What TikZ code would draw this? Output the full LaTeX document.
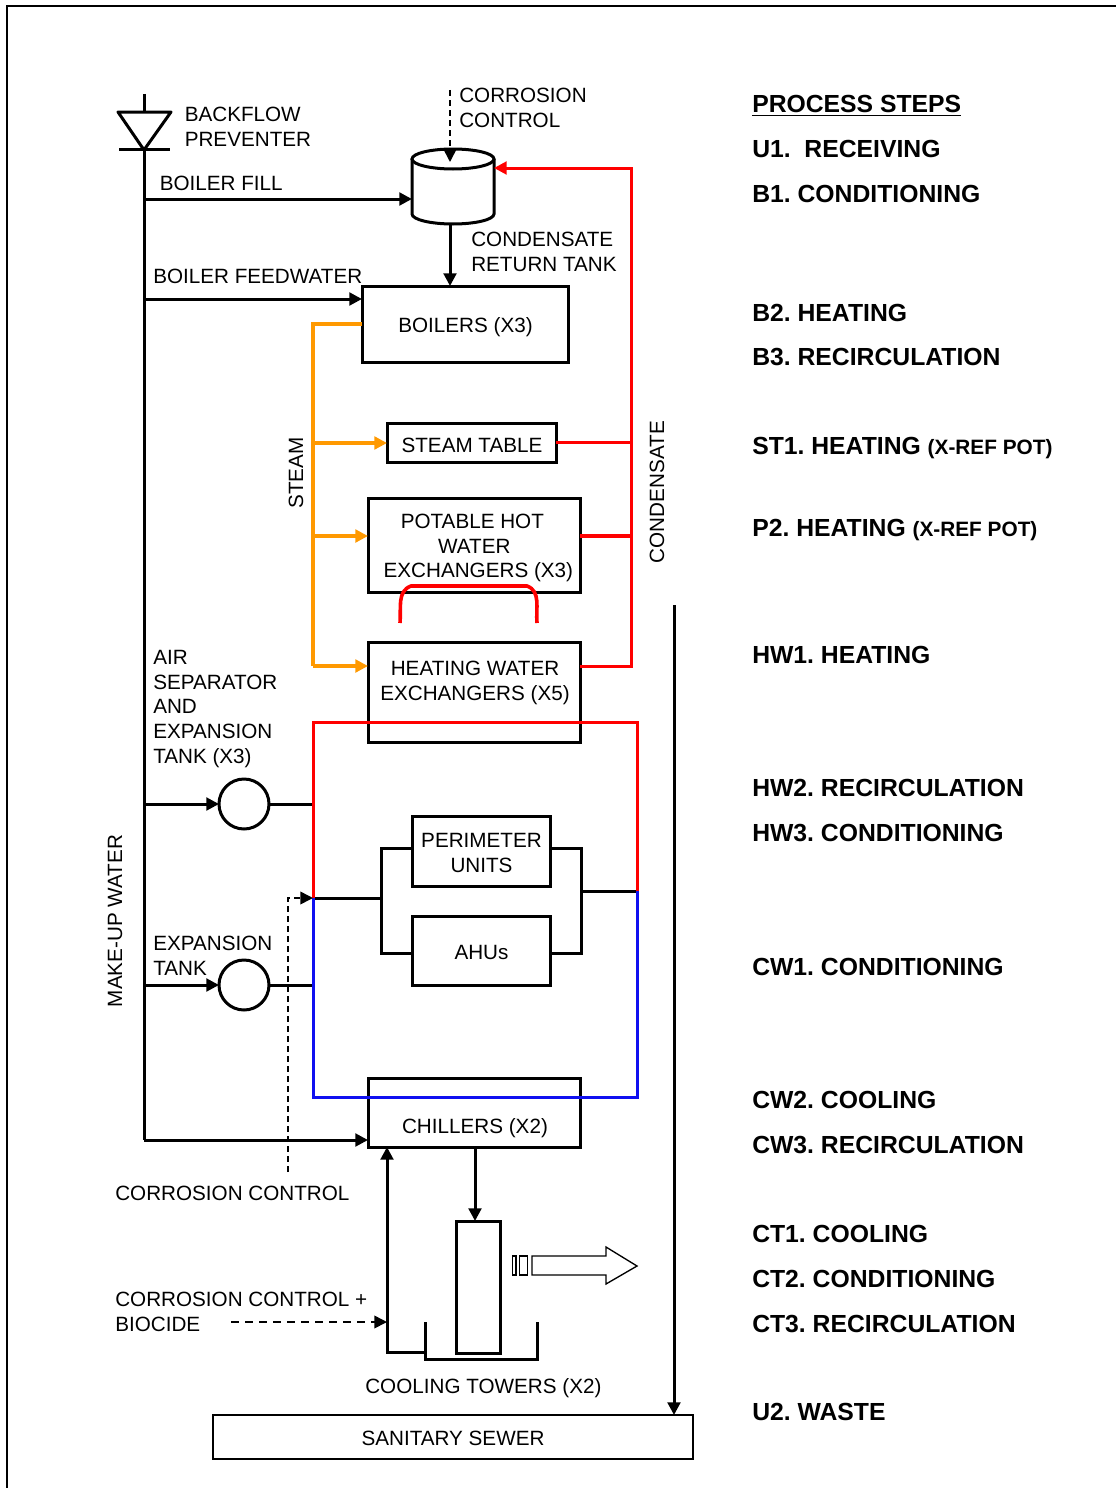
\documentclass[tikz,border=0pt]{standalone}
\usepackage{fontspec}
\setmainfont{Liberation Sans}
\usetikzlibrary{arrows.meta}
\definecolor{mysteam}{RGB}{255, 153, 0}
\definecolor{myred}{RGB}{255, 0, 0}
\definecolor{myblue}{RGB}{16, 16, 240}
\tikzset{
 >={Triangle[length=9.5pt,width=9.5pt]},
 lab/.style={inner sep=0pt, align=center, font=\fontsize{15.5}{18.6}\selectfont},
 leftlab/.style={lab, align=left, anchor=west},
 steplab/.style={inner sep=0pt, anchor=base west, font=\fontsize{18.55}{22}\selectfont\bfseries},
 unit/.style 2 args={draw, line width=2.25pt, inner sep=0pt, outer sep=0pt, minimum width=#1*0.75pt, minimum height=#2*0.75pt},
 vessel/.style={draw, circle, line width=2.25pt, inner sep=0pt, outer sep=0pt, minimum size=37.5pt},
 pipe/.style={line width=2.25pt},
 flow/.style={line width=2.25pt, ->},
 steam/.style={line width=2.4pt, color=mysteam},
 cond/.style={line width=2.25pt, color=myred},
 chem/.style={line width=1.2pt, dash pattern=on 4.5pt off 3pt, ->},
 thin outline/.style={line width=1pt}
}
\begin{document}
\begin{tikzpicture}[x=0.75pt, y=-0.75pt]
\frenchspacing
\useasboundingbox (0,0) rectangle (1116,1488);

 %frame
 \draw[line width=1.5pt] (7,1488) -- (7,6) -- (1116,6);

 %units
 \node[unit={206}{76}] (boilers) at (465,324) {};
 \node[lab] (boilerstext) at (465.5,327) {BOILERS (X3)};
 \node[unit={169}{39}] (steamtable) at (471.5,442.5) {};
 \node[lab] (steamtabletext) at (472,445.5) {STEAM TABLE};
 \node[unit={212}{94}] (potable) at (474,545) {};
 \node[lab] (potabletext) at (477,548) {\hspace{-7pt}POTABLE HOT\\\hspace{-4pt}WATER\\\hspace{2pt}EXCHANGERS (X3)};
 \node[unit={212}{100}] (heating) at (474,692) {};
 \node[lab] (heatingtext) at (475,683) {HEATING WATER\\EXCHANGERS (X5)};
 \node[unit={138}{70}] (perimeter) at (481,851) {};
 \node[lab] (perimetertext) at (481.5,853) {PERIMETER\\UNITS};
 \node[unit={138}{69}] (ahus) at (481,950.5) {};
 \node[lab] (ahustext) at (481.5,952.5) {AHUs};
 \node[unit={212}{69}] (chillers) at (474,1112.5) {};
 \node[lab] (chillerstext) at (475,1128) {CHILLERS (X2)};
 \node[unit={44}{132}] (tower) at (478,1287) {};
 \node[draw, thin outline, inner sep=0pt, outer sep=0pt, minimum width=360pt, minimum height=33pt] (sewer) at (453,1437) {};
 \node[lab] (sewertext) at (453,1438) {SANITARY SEWER};
 \node[unit={82}{75}, draw=none] (tank) at (453,186.5) {};
 \node[vessel] (airsep) at (244,804) {};
 \node[vessel] (exptank) at (244,985) {};

 %tank
 \draw[pipe] (453,159) ellipse [x radius=41, y radius=10];
 \draw[pipe] (412,159) -- (412,214) arc [start angle=180, end angle=0, x radius=41, y radius=10] -- (494,159);

 \coordinate (MTop) at (144,94);
 \coordinate (MTip) at (144,150);
 \coordinate (MBot) at (144,1140);
 \coordinate (Fill) at (144,199);
 \coordinate (Feed) at (144,299);
 \coordinate (Air) at (144,804);
 \coordinate (Exp) at (144,985);

 %make-up water
 \draw[pipe] (MTop) -- (144,112);
 \draw[pipe] (MTip) -- (MBot);
 \draw[line width=2.25pt, line join=round] (118,112) -- (171,112) -- (MTip) -- cycle;
 \draw[pipe] (119,149) -- (170,149);
 \draw[flow] (Fill) -- (tank.west |- Fill);
 \draw[flow] (Feed) -- (boilers.west |- Feed);
 \draw[flow] (Air) -- (airsep.west);
 \draw[flow] (Exp) -- (exptank.west);
 \draw[flow] (MBot) -- (chillers.west |- MBot);
 \draw[flow] (tank.south -| 450,0) -- (boilers.north -| 450,0);

 %steam
 \coordinate (S1) at (313,324);
 \coordinate (S2) at (313,443);
 \coordinate (S3) at (313,536);
 \coordinate (S4) at (313,666);
 \draw[steam] (boilers.west) -- (S1) -- (S4);
 \draw[steam, ->] (S2) -- (steamtable.west |- S2);
 \draw[steam, ->] (S3) -- (potable.west |- S3);
 \draw[steam, ->] (S4) -- (heating.west |- S4);

 %condensate
 \coordinate (C1) at (631,168);
 \coordinate (C2) at (631,442);
 \coordinate (C3) at (631,536);
 \coordinate (C4) at (631,666);
 \draw[cond] (steamtable.east |- C2) -- (C2);
 \draw[cond, line width=2.5pt] (potable.east |- C3) -- (C3);
 \draw[cond, ->] (heating.east |- C4) -- (C4) -- (C1) -- (tank.east |- C1);
 \draw[cond, line width=2.7pt] (400,623) to [out=85, in=200] (411,586) -- (527,586) to [out=-20, in=95] (537,623);

 %water loop
 \coordinate (L1) at (313,898);
 \coordinate (L2) at (637,891);
 \coordinate (B1) at (381,848);
 \coordinate (B2) at (381,953);
 \coordinate (B3) at (581,848);
 \coordinate (B4) at (581,953);
 \draw[pipe] (airsep.east) -- (airsep.east -| L1);
 \draw[pipe] (exptank.east) -- (exptank.east -| L1);
 \draw[pipe] (L1) -- (L1 -| B1);
 \draw[pipe] (perimeter.west |- B1) -- (B1) -- (B2) -- (ahus.west |- B2);
 \draw[pipe] (perimeter.east |- B3) -- (B3) -- (B4) -- (ahus.east |- B4);
 \draw[pipe] (L2 -| B3) -- (L2);
 \draw[cond] (L1) -- (313,722) -- (637,722) -- (L2);
 \draw[line width=2.25pt, color=myblue] (L1) -- (313,1097) -- (637,1097) -- (L2);

 %chemical feeds
 \draw[chem] (450,90) -- (450,162);
 \draw[chem] (288,1172) -- (288,898) -- (L1);
 \draw[chem, dash pattern=on 6pt off 4.5pt] (231,1322) -- (387,1322);

 %cooling towers
 \draw[flow] (chillers.south -| 475,0) -- (tower.north -| 475,0);
 \draw[pipe] (425,1322) -- (425,1359) -- (537,1359) -- (537,1322);
 \draw[flow] (425,1352) -- (387,1352) -- (chillers.south -| 387,0);
 \draw[thin outline] (512.5,1256) rectangle (516,1275);
 \draw[thin outline] (519.5,1256) rectangle (527.5,1275);
 \draw[thin outline] (532,1256) -- (606,1256) -- (606,1247) -- (637,1266) -- (606,1284) -- (606,1275) -- (532,1275) -- cycle;

 %waste
 \draw[flow] (674,605) -- (674,1415);

 %labels
 \node[leftlab] (backflow) at (184.5,127) {BACKFLOW\\PREVENTER};
 \node[leftlab] (corrtop) at (459,108) {CORROSION\\CONTROL};
 \node[leftlab] (fill) at (159.5,183) {BOILER FILL};
 \node[leftlab] (feed) at (153,276) {BOILER FEEDWATER};
 \node[leftlab] (return) at (471,251.5) {CONDENSATE\\RETURN TANK};
 \node[leftlab] (airlab) at (153,709) {AIR\\SEPARATOR\\AND\\EXPANSION\\TANK (X3)};
 \node[leftlab] (explab) at (153,956) {EXPANSION\\TANK};
 \node[leftlab] (corrmid) at (115,1193) {CORROSION CONTROL};
 \node[leftlab] (corrlow) at (115,1311.5) {CORROSION CONTROL +\\BIOCIDE};
 \node[leftlab] (towerlab) at (365,1388) {COOLING TOWERS (X2)};
 \node[lab, rotate=90] (makeup) at (115,921) {MAKE-UP WATER};
 \node[lab, rotate=90] (steamlab) at (296,473) {STEAM};
 \node[lab, rotate=90] (condlab) at (657,492) {CONDENSATE};

 %process steps
 \foreach \nm/\yy/\txt in {u1/157/U1.\ \ RECEIVING, b1/202/B1. CONDITIONING, b2/321/B2. HEATING, b3/365/B3. RECIRCULATION, hw1/663/HW1. HEATING, hw2/796/HW2. RECIRCULATION, hw3/841/HW3. CONDITIONING, cw1/975/CW1. CONDITIONING, cw2/1108/CW2. COOLING, cw3/1153/CW3. RECIRCULATION, ct1/1242/CT1. COOLING, ct2/1287/CT2. CONDITIONING, ct3/1332/CT3. RECIRCULATION, u2/1420/U2. WASTE}
  \node[steplab] (\nm) at (752,\yy) {\txt};
 \node[steplab] (steps) at (752,113) {\underline{PROCESS STEPS}};
 \node[steplab] (st1) at (752,454) {ST1. HEATING {\fontsize{15.6}{18}\selectfont (X-REF POT)}};
 \node[steplab] (p2) at (752,536) {P2. HEATING {\fontsize{15.6}{18}\selectfont (X-REF POT)}};
\end{tikzpicture}
\end{document}
